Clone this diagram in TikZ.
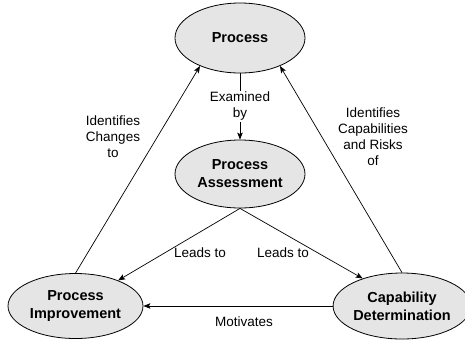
\documentclass[tikz,border=0pt]{standalone}
\usepackage{fontspec}
\setmainfont{Liberation Sans}
\usetikzlibrary{shapes.geometric,arrows.meta}
\begin{document}
\begin{tikzpicture}[x=1pt,y=-1pt,
  proc/.style={ellipse,draw=black,line width=0.8pt,fill=black!10,inner sep=0pt,
    align=center,font=\fontsize{14.5}{18}\selectfont\bfseries},
  rel/.style={-{Stealth[length=7pt,width=5.5pt,inset=1.5pt]},line width=0.7pt},
  lbl/.style={align=center,inner sep=1pt,font=\fontsize{13.5}{16}\selectfont}]
\useasboundingbox (0,0) rectangle (465,341);
% activities
\node[proc,minimum width=130pt,minimum height=70pt] (P) at (240,38) {Process};
\node[proc,minimum width=130pt,minimum height=68pt] (A) at (240,174) {Process\\Assessment};
\node[proc,minimum width=135pt,minimum height=65pt] (I) at (75.5,306) {Process\\Improvement};
\node[proc,minimum width=128pt,minimum height=66pt] (C) at (402,306) {Capability\\Determination};
% relations
\draw[rel] (P.south) -- node[lbl,fill=white] {Examined\\by} (A.north);
\draw[rel] (I.north) -- (P.215);
\draw[rel] (C.north) -- (P.325);
\draw[rel] (A.south) -- (I.31);
\draw[rel] (A.south) -- (C.145);
\draw[rel] (C.west) -- (I.east);
% relation labels
\node[lbl] (lc) at (113,137) {Identifies\\Changes\\to};
\node[lbl] (lr) at (373,137) {Identifies\\Capabilities\\and Risks\\of};
\node[lbl] (la) at (200,253) {Leads to};
\node[lbl] (lb) at (283,253) {Leads to};
\node[lbl] (lm) at (244,322) {Motivates};
\end{tikzpicture}
\end{document}
